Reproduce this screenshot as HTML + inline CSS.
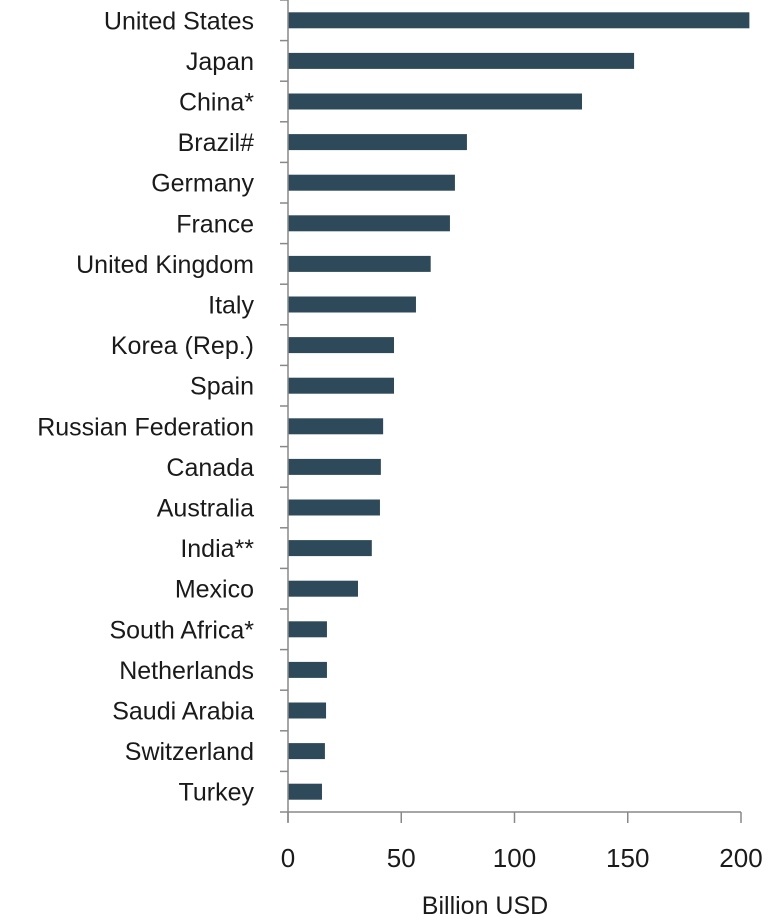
<!DOCTYPE html>
<html><head><meta charset="utf-8"><style>
html,body{margin:0;padding:0;background:#fff;}
svg{display:block;font-family:"Liberation Sans",sans-serif;}
</style></head><body>
<svg id="chart" width="776" height="916" viewBox="0 0 776 916"></svg>
<script>
const categories = ["United States","Japan","China*","Brazil#","Germany","France","United Kingdom","Italy","Korea (Rep.)","Spain","Russian Federation","Canada","Australia","India**","Mexico","South Africa*","Netherlands","Saudi Arabia","Switzerland","Turkey"];
const values = [203.7,152.8,129.8,79,73.7,71.5,63,56.5,46.8,46.8,42,41,40.6,37,30.9,17.2,17.2,16.8,16.3,15];
const xTicks = [0,50,100,150,200];

const NS="http://www.w3.org/2000/svg";
const svg=document.getElementById('chart');
const x0=288, x1=741, yTop=0, yBot=812;
const xScale=v=>x0+(v/200)*(x1-x0);
const band=(yBot-yTop)/categories.length;
const yScale=i=>yTop+band*i;
function mk(tag,attrs){const e=document.createElementNS(NS,tag);for(const k in attrs)e.setAttribute(k,attrs[k]);svg.appendChild(e);return e;}

categories.forEach((c,i)=>{
  const r=mk('rect',{x:xScale(0),y:yScale(i)+band/2-8,width:xScale(values[i])-xScale(0),height:16,fill:'#2e4a5a'});
  
  
  const t=mk('text',{x:254,y:yScale(i)+band/2+9,'text-anchor':'end','font-size':25,fill:'#1a1a1a'});
  t.textContent=c;
  
  
  const tk=mk('line',{x1:x0-8,x2:x0,y1:yScale(i),y2:yScale(i),stroke:'#888','stroke-width':1.5});
  
  
});
const ya=mk('line',{x1:x0,x2:x0,y1:yTop,y2:yBot+10,stroke:'#888','stroke-width':1.5});


const xa=mk('line',{x1:x0-8,x2:x1,y1:yBot,y2:yBot,stroke:'#888','stroke-width':1.5});


xTicks.forEach(v=>{
  const l=mk('line',{x1:xScale(v),x2:xScale(v),y1:yBot,y2:yBot+11,stroke:'#888','stroke-width':1.5});
  
  
  const t=mk('text',{x:xScale(v),y:867,'text-anchor':'middle','font-size':26,fill:'#1a1a1a'});
  t.textContent=v;
  
  
});
const title=mk('text',{x:485,y:914,'text-anchor':'middle','font-size':25,fill:'#1a1a1a'});
title.textContent='Billion USD';


</script>
</body></html>
